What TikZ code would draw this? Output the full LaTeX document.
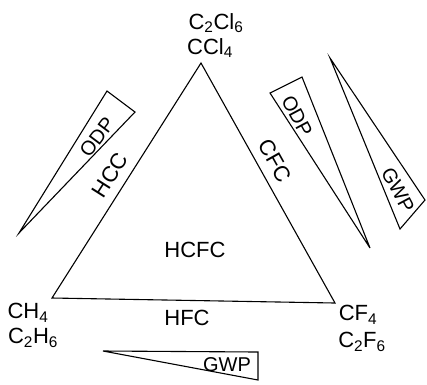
\documentclass[tikz,border=0pt]{standalone}
\usepackage{fontspec}
\setmainfont{Liberation Sans}
\begin{document}
\begin{tikzpicture}[x=1pt,y=-1pt,
  lbl/.style={inner sep=0pt,font=\fontsize{22}{25}\selectfont},
  small/.style={inner sep=0pt,font=\fontsize{20}{23}\selectfont},
  edge/.style={line width=1.1pt,line join=miter}]
\useasboundingbox (0,0) rectangle (427,384);
% main triangle
\coordinate (A) at (201,63);
\coordinate (B) at (52,298);
\coordinate (C) at (335,303);
\draw[edge] (A) -- (B) -- (C) -- cycle;
% corner labels
\node[lbl] (c2cl6) at (216,23) {C\textsubscript{2}Cl\textsubscript{6}};
\node[lbl] (ccl4) at (210,48) {CCl\textsubscript{4}};
\node[lbl] (ch4) at (28,313) {CH\textsubscript{4}};
\node[lbl] (c2h6) at (33,338) {C\textsubscript{2}H\textsubscript{6}};
\node[lbl] (cf4) at (358,315) {CF\textsubscript{4}};
\node[lbl] (c2f6) at (362,342) {C\textsubscript{2}F\textsubscript{6}};
% side labels
\node[lbl] (hcfc) at (195,250) {HCFC};
\node[lbl] (hfc) at (187,318) {HFC};
\node[lbl,rotate=57.6] (hcc) at (110,175) {HCC};
\node[lbl,rotate=-60.8] (cfc) at (275,161) {CFC};
% left ODP wedge
\coordinate (o1t) at (19,233);
\coordinate (o1a) at (107,91);
\coordinate (o1b) at (135,112);
\draw[edge] (o1t) -- (o1a) -- (o1b) -- cycle;
\node[small,rotate=53] (odp1) at (97,137) {ODP};
% right ODP wedge
\coordinate (o2t) at (370,248);
\coordinate (o2a) at (270,93);
\coordinate (o2b) at (302,77);
\draw[edge] (o2t) -- (o2a) -- (o2b) -- cycle;
\node[small,rotate=-62] (odp2) at (297,116) {ODP};
% right GWP wedge
\coordinate (g1t) at (330,58);
\coordinate (g1a) at (425,200);
\coordinate (g1b) at (400,229);
\draw[edge] (g1t) -- (g1a) -- (g1b) -- cycle;
\node[small,rotate=-62] (gwp1) at (398,190) {GWP};
% bottom GWP wedge
\coordinate (g2t) at (103,351);
\coordinate (g2a) at (258,352);
\coordinate (g2b) at (258,380);
\draw[edge] (g2t) -- (g2a) -- (g2b) -- cycle;
\node[small] (gwp2) at (227,365) {GWP};
\end{tikzpicture}
\end{document}
